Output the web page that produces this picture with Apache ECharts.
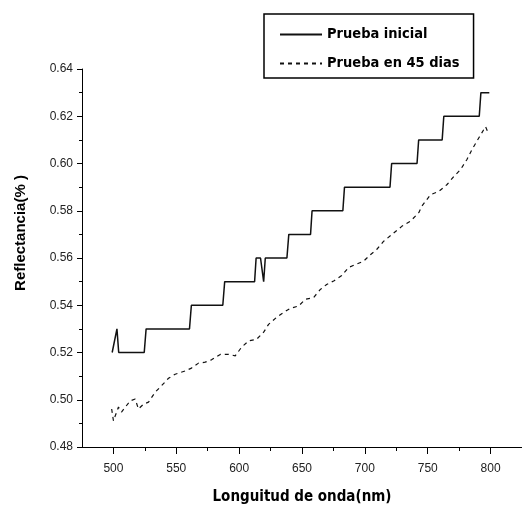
<!DOCTYPE html>
<html>
<head>
    <meta charset="utf-8">
    <title>Reflectancia</title>
    <script src="https://cdn.jsdelivr.net/npm/echarts@6/dist/echarts.min.js"></script>
    <style>
        html, body { margin: 0; padding: 0; background: #fff; }
    </style>
</head>
<body>
<div id="main" style="width: 522px;height:510px;"></div>
<script type="text/javascript">

    // Prueba inicial (nm / reflectancia)
    const inicialNm = [499, 500.5, 502.8, 503.8, 504.2, 524.5, 526, 560.5, 562, 587, 588.5,
        612.3, 613.5, 617, 619.5, 620.8, 638, 639.5, 656.8, 658, 682.5, 683.8, 720, 721.3,
        741.5, 742.8, 761.5, 762.8, 791, 792.3, 799];
    const inicialRef = [0.52, 0.52, 0.53, 0.53, 0.52, 0.52, 0.53, 0.53, 0.54, 0.54, 0.55,
        0.55, 0.56, 0.56, 0.55, 0.56, 0.56, 0.57, 0.57, 0.58, 0.58, 0.59, 0.59, 0.60,
        0.60, 0.61, 0.61, 0.62, 0.62, 0.63, 0.63];

    // Prueba en 45 dias
    const dias45Nm = [498.6, 500, 504, 506.4, 513.3, 517.3, 519.9, 523.9, 527.9, 533.2, 538.2,
        543.8, 549.1, 557.1, 562.1, 567.7, 573, 578, 585, 591.6, 596.9, 601.9, 607.5, 613.9,
        619.5, 623.4, 629.8, 635.4, 640.7, 647.3, 652.7, 659.3, 664.6, 669.6, 675.2, 681.6,
        687.1, 692.5, 699.1, 704.4, 709.4, 715, 721.4, 729.4, 736.3, 742.9, 745.3, 752.2,
        758.8, 765.2, 770.8, 776.1, 781.1, 785.1, 790.7, 796, 798];
    const dias45Ref = [0.4961, 0.4911, 0.4969, 0.4948, 0.4995, 0.5003, 0.4961, 0.4981, 0.4990,
        0.5032, 0.5059, 0.5091, 0.5108, 0.5122, 0.5134, 0.5155, 0.5159, 0.5169, 0.5192, 0.5192,
        0.5186, 0.5222, 0.5249, 0.5256, 0.5286, 0.5319, 0.5349, 0.5370, 0.5387, 0.5397,
        0.5425, 0.5433, 0.5467, 0.5488, 0.5503, 0.5526, 0.5560, 0.5572, 0.5587, 0.5614,
        0.5636, 0.5671, 0.5699, 0.5734, 0.5756, 0.5792, 0.5819, 0.5868, 0.5882, 0.5910,
        0.5945, 0.5974, 0.6016, 0.6058, 0.6109, 0.6156, 0.6131];

    const xMajorTicks = [500, 550, 600, 650, 700, 750, 800];
    const xMinorTicks = [525, 575, 625, 675, 725, 775, 825];
    const seriesNames = ['Prueba inicial', 'Prueba en 45 dias'];

    const narrowFont = "'Liberation Sans Narrow', 'DejaVu Sans Condensed', sans-serif";
    const tickFont = "'Liberation Sans', Arial, sans-serif";

    function pairs(xs, ys) {
        let out = [];
        for (let i = 0; i < xs.length; i++) {
            out.push([xs[i], ys[i]]);
        }
        return out;
    }

    const myChart = echarts.init(document.getElementById('main'));

    const option = {
        backgroundColor: '#fff',
        animation: false,
        grid: {left: 82, right: 0, top: 69, bottom: 62, containLabel: false},
        legend: {
            orient: 'vertical',
            left: 264,
            top: 14,
            padding: [13, 14, 7, 15],
            itemGap: 14,
            itemWidth: 42,
            itemHeight: 14,
            borderColor: '#000',
            borderWidth: 1.5,
            borderRadius: 0,
            backgroundColor: '#fff',
            itemStyle: {opacity: 0},
            textStyle: {fontFamily: narrowFont, fontWeight: 'bold', fontSize: 14.5, color: '#000'},
            data: seriesNames
        },
        xAxis: [
            {
                type: 'value',
                min: 475,
                max: 825,
                position: 'bottom',
                name: 'Longuitud de onda(nm)',
                nameLocation: 'middle',
                nameGap: 43,
                nameTextStyle: {fontFamily: narrowFont, fontWeight: 'bold', fontSize: 15, color: '#000'},
                axisLine: {show: true, lineStyle: {color: '#000', width: 1}},
                axisTick: {show: true, customValues: xMajorTicks, length: 7, lineStyle: {color: '#000'}},
                axisLabel: {customValues: xMajorTicks, margin: 16, fontFamily: tickFont, fontSize: 12, color: '#222'},
                splitLine: {show: false}
            },
            {
                type: 'value',
                min: 475,
                max: 825,
                position: 'bottom',
                axisLine: {show: false},
                axisTick: {show: true, customValues: xMinorTicks, length: 4, lineStyle: {color: '#000'}},
                axisLabel: {show: false},
                splitLine: {show: false}
            }
        ],
        yAxis: {
            type: 'value',
            min: 0.48,
            max: 0.64,
            interval: 0.02,
            name: 'Reflectancia(% )',
            nameLocation: 'middle',
            nameGap: 54,
            nameTextStyle: {
                fontFamily: tickFont, fontWeight: 'bold', fontSize: 15, color: '#000',
                padding: [0, 0, 0, 50]
            },
            axisLine: {show: true, lineStyle: {color: '#000', width: 1}},
            axisTick: {show: true, length: 5, lineStyle: {color: '#000'}},
            minorTick: {show: true, splitNumber: 2, length: 3, lineStyle: {color: '#000'}},
            axisLabel: {
                margin: 9, fontFamily: tickFont, fontSize: 12, color: '#222',
                formatter: function (v) { return v.toFixed(2); }
            },
            splitLine: {show: false},
            minorSplitLine: {show: false}
        },
        series: [
            {
                name: seriesNames[0],
                type: 'line',
                symbol: 'none',
                data: pairs(inicialNm, inicialRef),
                lineStyle: {color: '#111', width: 1.5, type: 'solid'},
                itemStyle: {color: '#111'}
            },
            {
                name: seriesNames[1],
                type: 'line',
                symbol: 'none',
                data: pairs(dias45Nm, dias45Ref),
                lineStyle: {color: '#111', width: 1.2, type: [4, 4]},
                itemStyle: {color: '#111'}
            }
        ]
    };

    myChart.setOption(option);
</script>
</body>
</html>
